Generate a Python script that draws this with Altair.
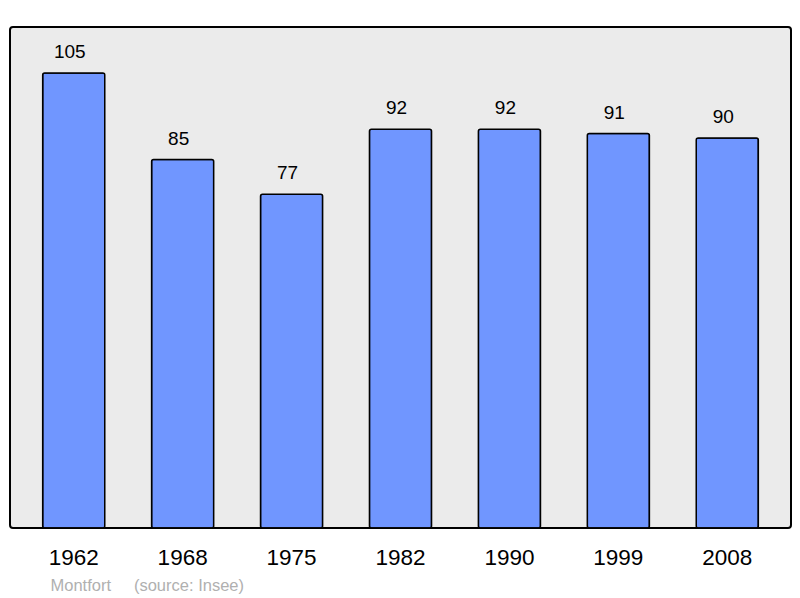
import altair as alt
import pandas as pd

years = ["1962", "1968", "1975", "1982", "1990", "1999", "2008"]
population = [105, 85, 77, 92, 92, 91, 90]
footer = "Montfort\u00a0\u00a0\u00a0\u00a0\u00a0(source: Insee)"

df = pd.DataFrame({"year": years, "pop": population})

x = alt.X(
    "year:N",
    sort=years,
    scale=alt.Scale(paddingInner=0.43, paddingOuter=0.3),
    axis=alt.Axis(
        title=footer,
        labelAngle=0,
        labelFontSize=22.5,
        labelFont="Liberation Sans",
        labelColor="black",
        labelBaseline="alphabetic",
        labelPadding=36,
        ticks=False,
        tickSize=0,
        domain=False,
        grid=False,
        titleFont="Liberation Sans",
        titleFontSize=16.5,
        titleFontWeight="normal",
        titleColor="#b0b0b0",
        titleAnchor="start",
        titleAlign="left",
        titleBaseline="alphabetic",
        titleX=40,
        titleY=62,
    ),
)
y = alt.Y("pop:Q", scale=alt.Scale(domain=[0, 115.6], nice=False, zero=True), axis=None)

bars = alt.Chart(df).mark_bar(
    fill="#7096ff", stroke="black", strokeWidth=1.5, cornerRadius=2
).encode(x=x, y=y)

labels = alt.Chart(df).mark_text(
    dy=-15, dx=-4, baseline="alphabetic", fontSize=19, font="Liberation Sans", color="black"
).encode(x=alt.X("year:N", sort=years), y=y, text="pop:Q")

chart = (
    alt.layer(bars, labels)
    .properties(
        width=781,
        height=501,
        padding={"left": 2, "top": 19, "right": 1, "bottom": 69},
        autosize=alt.AutoSizeParams(type="none"),
        background="white",
    )
    .configure_view(fill="#ebebeb", stroke="black", strokeWidth=2, cornerRadius=3)
)

chart.save("out.html", embed_options={"renderer": "svg", "actions": False})
